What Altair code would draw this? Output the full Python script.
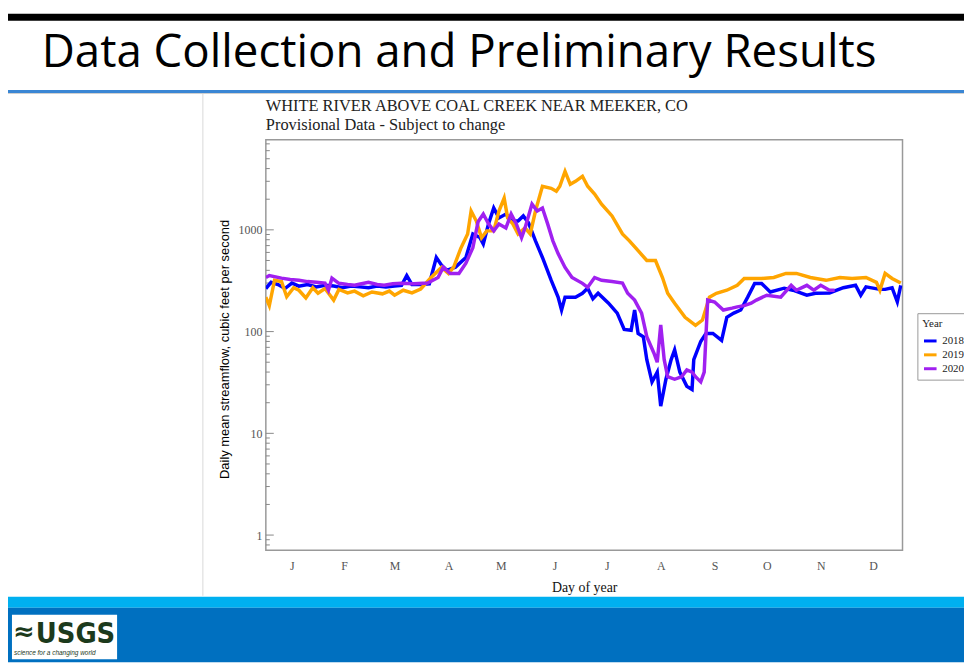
import altair as alt
import pandas as pd

# ---------------- data ----------------
years = ["2018", "2019", "2020"]
line_colors = ["#0000ff", "#ffa500", "#a020f0"]

# (day of year, daily mean streamflow cfs)
flow_2018 = [
    (1, 265), (4, 305), (8, 290), (12, 265), (16, 300), (20, 280), (25, 290), (30, 275),
    (35, 285), (40, 280), (45, 270), (50, 280), (55, 275), (60, 270), (65, 280), (70, 275),
    (75, 280), (79, 285), (82, 356), (85, 290), (90, 290), (95, 295), (99, 535), (102, 450),
    (105, 400), (110, 430), (116, 535), (120, 910), (124, 840), (126, 725), (129, 1140),
    (132, 1640), (135, 1310), (139, 1430), (143, 1220), (146, 1220), (149, 1370), (152, 1170),
    (156, 780), (160, 535), (165, 320), (169, 218), (171, 163), (173, 218), (179, 218),
    (183, 238), (186, 267), (189, 210), (192, 238), (198, 190), (203, 152), (207, 105),
    (211, 103), (213, 163), (215, 96), (218, 89), (220, 53), (223, 32), (226, 40), (228, 18.5),
    (231, 34), (234, 53), (236, 66), (239, 40), (243, 29), (246, 27), (247, 53), (251, 80),
    (254, 96), (258, 96), (263, 82), (266, 138), (270, 152), (274, 163), (278, 218), (282, 297),
    (286, 297), (291, 245), (299, 267), (304, 255), (312, 228), (317, 238), (325, 240),
    (333, 270), (340, 285), (343, 228), (346, 275), (354, 260), (357, 260), (361, 270),
    (364, 196), (366, 285),
]
flow_2019 = [
    (1, 218), (3, 180), (6, 320), (10, 310), (13, 220), (17, 270), (20, 255), (24, 214),
    (28, 270), (31, 238), (35, 265), (40, 204), (43, 260), (48, 240), (52, 250), (57, 225),
    (62, 245), (68, 235), (72, 250), (75, 228), (80, 255), (85, 240), (90, 262), (96, 340),
    (102, 427), (106, 373), (109, 430), (113, 654), (117, 912), (119, 1530), (122, 1220),
    (125, 836), (128, 977), (132, 977), (135, 1530), (138, 2050), (140, 1310), (143, 1144),
    (146, 912), (150, 1045), (153, 912), (156, 1530), (160, 2680), (165, 2560), (168, 2400),
    (170, 2680), (173, 3750), (176, 2800), (179, 3000), (183, 3360), (186, 2680), (190, 2250),
    (194, 1790), (200, 1370), (206, 912), (210, 780), (215, 624), (220, 500), (225, 500),
    (229, 340), (232, 238), (236, 190), (242, 138), (248, 115), (252, 130), (256, 218),
    (260, 238), (266, 255), (272, 285), (276, 333), (282, 333), (286, 333), (293, 340),
    (300, 373), (306, 373), (314, 340), (323, 319), (331, 340), (338, 333), (346, 340),
    (352, 305), (354, 255), (357, 373), (361, 333), (366, 300),
]
flow_2020 = [
    (1, 340), (3, 356), (10, 335), (15, 325), (20, 320), (25, 310), (30, 305), (35, 300),
    (37, 255), (39, 335), (43, 298), (48, 290), (52, 285), (56, 295), (60, 305), (65, 290),
    (69, 285), (74, 295), (79, 298), (86, 295), (94, 300), (100, 340), (103, 430), (107, 373),
    (112, 373), (116, 470), (120, 668), (123, 1200), (126, 1430), (129, 1144), (132, 977),
    (135, 1144), (139, 1045), (142, 1430), (145, 1144), (148, 836), (150, 1045), (154, 1790),
    (157, 1530), (160, 1640), (163, 1144), (166, 780), (169, 584), (173, 427), (177, 340),
    (183, 298), (186, 272), (190, 340), (194, 319), (200, 310), (206, 300), (209, 238),
    (213, 204), (217, 152), (220, 89), (224, 62), (226, 50), (228, 116), (230, 53), (232, 36),
    (236, 34), (240, 36), (243, 42), (246, 40), (248, 36), (251, 32), (253, 40), (255, 204),
    (259, 195), (264, 163), (269, 170), (272, 175), (276, 180), (280, 190), (283, 204),
    (289, 228), (297, 218), (303, 285), (306, 255), (312, 285), (316, 255), (320, 285),
    (325, 255), (328, 255),
]

month_letters = ["J", "F", "M", "A", "M", "J", "J", "A", "S", "O", "N", "D"]
month_label_days = [16, 46, 75, 106, 136, 167, 197, 228, 259, 289, 320, 350]
major_ticks = [1, 10, 100, 1000]
minor_ticks = [0.8, 0.9, 2, 3, 4, 5, 6, 7, 8, 9, 20, 30, 40, 50, 60, 70, 80, 90,
               200, 300, 400, 500, 600, 700, 800, 900, 2000, 3000, 4000, 5000, 6000, 7000]

slide_title = "Data Collection and Preliminary Results"
chart_title = "WHITE RIVER ABOVE COAL CREEK NEAR MEEKER, CO"
chart_subtitle = "Provisional Data - Subject to change"
y_title = "Daily mean streamflow, cubic feet per second"
x_title = "Day of year"

# ---------------- build ----------------
rows = []
for yr, series in zip(years, [flow_2018, flow_2019, flow_2020]):
    for d, v in series:
        rows.append({"year": yr, "day": d, "flow": v})
df = pd.DataFrame(rows)

SERIF = "Liberation Serif"
SANS = "Liberation Sans"
W, H = 642, 414

xscale = alt.Scale(domain=[1, 367], nice=False, zero=False)
yscale = alt.Scale(type="log", domain=[0.71, 7700], nice=False)

label_expr = "[" + ",".join("'%s'" % m for m in month_letters) + "][indexof([" + \
    ",".join(str(d) for d in month_label_days) + "], datum.value)]"

y_axis = alt.Axis(
    values=major_ticks, format="d", title=y_title,
    grid=False, ticks=False, domain=False, labelFont=SERIF, labelFontSize=12,
    labelColor="#555555", labelPadding=4, titleFont=SANS, titleFontSize=13,
    titleFontWeight="normal", titleColor="#000000", titleX=-35, titleY=211)

lines = alt.Chart(df).mark_line(strokeWidth=3.5, clip=True).encode(
    x=alt.X("day:Q", scale=xscale, axis=alt.Axis(
        values=month_label_days, labelExpr=label_expr, title=x_title,
        grid=False, ticks=False, domain=False, labelFont=SERIF, labelFontSize=12,
        labelColor="#555555", labelPadding=10, titleFont=SERIF, titleFontSize=14,
        titleFontWeight="normal", titleColor="#111111", titlePadding=10)),
    y=alt.Y("flow:Q", scale=yscale, axis=y_axis),
    color=alt.Color("year:N", scale=alt.Scale(domain=years, range=line_colors),
                    legend=alt.Legend(
                        title="Year", orient="none", legendX=657, legendY=175,
                        symbolType="stroke", symbolStrokeWidth=3, symbolSize=160,
                        titleFont=SERIF, titleFontSize=11, titleFontWeight="normal",
                        titleColor="#222222", labelFont=SERIF, labelFontSize=11,
                        labelColor="#222222", strokeColor="#999999", fillColor="white",
                        padding=5, rowPadding=0, titlePadding=4)),
)

ticks_major = alt.Chart(pd.DataFrame({"v": major_ticks})).mark_rule(
    color="#888888", strokeWidth=1).encode(
    y=alt.Y("v:Q", scale=yscale, axis=y_axis), x=alt.value(0), x2=alt.value(8))
ticks_minor = alt.Chart(pd.DataFrame({"v": minor_ticks})).mark_rule(
    color="#888888", strokeWidth=1).encode(
    y=alt.Y("v:Q", scale=yscale, axis=y_axis), x=alt.value(0), x2=alt.value(4))

one = pd.DataFrame({"k": [0]})


def rect(x, x2, y, y2, color):
    return alt.Chart(one).mark_rect(color=color).encode(
        x=alt.value(x), x2=alt.value(x2), y=alt.value(y), y2=alt.value(y2))


def text(t, x, y, **kw):
    return alt.Chart(one).mark_text(text=t, align="left", baseline="alphabetic", **kw).encode(
        x=alt.value(x), y=alt.value(y))


decor = [
    rect(-260, 704, -127, -120, "#000000"),          # top black border
    rect(-260, 704, -50, -47, "#3a86d4"),            # blue separator
    rect(-260, 704, -47, -46, "#d0d0d0"),
    rect(-64, -63, -46, 460, "#d9d9d9"),             # panel edge
    rect(-260, 704, 461, 472, "#00b0f0"),            # light blue band
    rect(-260, 704, 472, 527, "#0070c0"),            # dark blue footer
    rect(-256, -150, 479, 524, "#ffffff"),           # logo box
    text(slide_title, -226, -73, font="Open Sans", fontSize=46, color="#000000"),
    text(chart_title, 0, -29, font=SERIF, fontSize=16.5, color="#222222"),
    text(chart_subtitle, 0, -10, font=SERIF, fontSize=16.5, color="#222222"),
    text("USGS", -232, 508, font="Liberation Sans Narrow, DejaVu Sans Condensed, Roboto",
         fontSize=29, fontWeight="bold", color="#1c3a1c"),
    text("\u2248", -255, 505, font="DejaVu Sans", fontSize=26, fontWeight="bold",
         color="#1c3a1c"),
    text("science for a changing world", -254, 520, font=SANS, fontSize=6.5,
         fontStyle="italic", color="#1c3a1c"),
]

chart = alt.layer(*decor, ticks_major, ticks_minor, lines).properties(
    width=W, height=H,
    autosize=alt.AutoSizeParams(type="none"),
    padding={"left": 260, "top": 130, "right": 62, "bottom": 113},
    background="white",
).configure_view(stroke="#999999", strokeWidth=1.5)

chart.save("out.html", embed_options={"renderer": "svg", "actions": False})
